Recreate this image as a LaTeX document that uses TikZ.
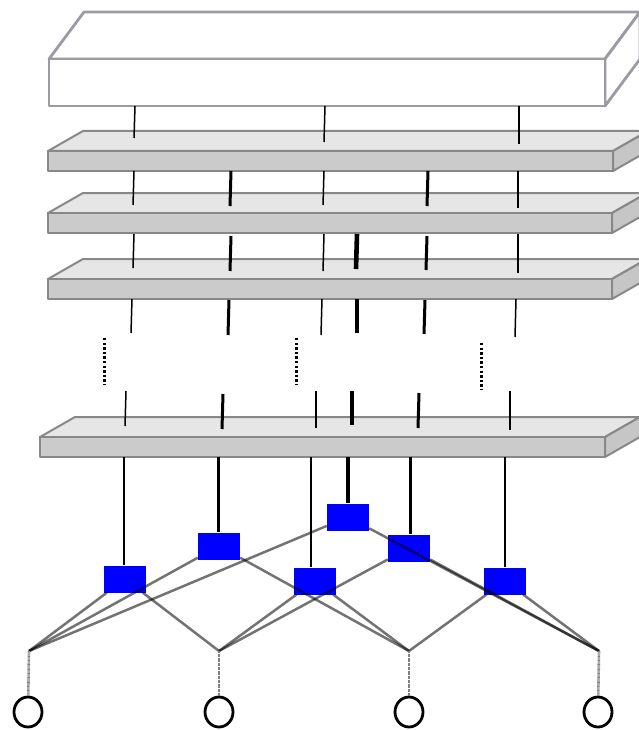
\documentclass[tikz,border=0pt]{standalone}
\usetikzlibrary{shapes.geometric}
\definecolor{slabtop}{HTML}{E6E6E6}
\definecolor{slabfront}{HTML}{CBCBCB}
\definecolor{slabside}{HTML}{C6C6C6}
\definecolor{slabedge}{HTML}{888888}
\definecolor{boxedge}{HTML}{9B9BA3}
\definecolor{unitblue}{HTML}{0000FF}

% A flat block seen from above: #1 front top-left corner, #2 width, #3 height,
% #4/#5 depth offset of the back edge, #6 edge colour, #7 top, #8 side, #9 front fill
\newcommand\drawslab[9]{%
  \begin{scope}[shift={#1}]
    \filldraw[draw=#6, fill=#7, line join=round] (0,0) -- (#4,#5) -- ({#2+#4},#5) -- (#2,0) -- cycle;
    \filldraw[draw=#6, fill=#8, line join=round] (#2,0) -- ({#2+#4},#5) -- ({#2+#4},{#5+#3}) -- (#2,#3) -- cycle;
    \filldraw[draw=#6, fill=#9, line join=round] (0,0) rectangle (#2,#3);
  \end{scope}}

\begin{document}
\begin{tikzpicture}[x=1pt, y=-1pt,
  wthin/.style={draw=black, line width=1.5pt},
  wthick/.style={draw=black, line width=3pt},
  wheavy/.style={draw=black, line width=4.6pt},
  skip/.style={draw=black, line width=3pt, dash pattern=on 2.4pt off 2.2pt},
  unit/.style={rectangle, fill=unitblue, minimum width=42pt, minimum height=27pt, inner sep=0pt},
  link/.style={draw=black, opacity=0.55, line width=2.5pt},
  feed/.style={draw=black!50, line width=2.6pt, dash pattern=on 0.8pt off 0.5pt},
  port/.style={ellipse, draw=black, line width=2.8pt, minimum width=28pt, minimum height=30pt, inner sep=0pt}]
\useasboundingbox (0,0) rectangle (639,730);
\clip (0,0) rectangle (639,730);

% output block and the stacked layers
\begingroup
\tikzset{every path/.style={line width=2.8pt}}
\drawslab{(49,59)}{556}{47}{35}{-47}{boxedge}{white}{white}{white}
\endgroup
\begingroup
\tikzset{every path/.style={line width=2pt}}
\drawslab{(48,151)}{565}{20}{35}{-20}{slabedge}{slabtop}{slabside}{slabfront}
\drawslab{(48,213)}{564}{20}{35}{-20}{slabedge}{slabtop}{slabside}{slabfront}
\drawslab{(48,279)}{564}{20}{35}{-20}{slabedge}{slabtop}{slabside}{slabfront}
\drawslab{(40,437)}{565}{20}{35}{-20}{slabedge}{slabtop}{slabside}{slabfront}
\endgroup

% links from the first layer to the output block
\draw[wthin] (135,106) -- (134,138);
\draw[wthin] (325,106) -- (324,142);
\draw[wthin] (519,106) -- (519,144);

% links between layers
\draw[wthin]  (134,171) -- (133,205);
\draw[wthick] (231,171) -- (230,206);
\draw[wthin]  (324,171) -- (323,205);
\draw[wthick] (428,171) -- (427,206);
\draw[wthin]  (518,171) -- (518,208);

\draw[wthin]  (134,234) -- (133,268);
\draw[wthick] (231,236) -- (230,271);
\draw[wthin]  (324,234) -- (323,271);
\draw[wheavy] (357,234) -- (356,269);
\draw[wthick] (427,236) -- (426,270);
\draw[wthin]  (518,234) -- (518,273);

\draw[wthin]  (132,299) -- (131,333);
\draw[wthick] (229,300) -- (228,335);
\draw[wthin]  (322,299) -- (321,335);
\draw[wheavy] (357,299) -- (357,333);
\draw[wthick] (425,300) -- (424,334);
\draw[wthin]  (516,299) -- (515,337);

% omitted layers
\draw[skip] (104,338) -- (104,385);
\draw[skip] (296,338) -- (296,385);
\draw[skip] (481,343) -- (481,390);

\draw[wthin]  (126,391) -- (125,426);
\draw[wthick] (223,394) -- (222,429);
\draw[wthin]  (316,391) -- (316,428);
\draw[wheavy] (352,391) -- (352,425);
\draw[wthick] (419,393) -- (418,428);
\draw[wthin]  (510,391) -- (510,430);

% pairwise units
\node[unit] (B1) at (125,579) {};
\node[unit] (B2) at (219,546) {};
\node[unit] (B3) at (348,517) {};
\node[unit] (B4) at (409,548) {};
\node[unit] (B5) at (315,581) {};
\node[unit] (B6) at (505,581) {};

% units feed the lowest layer
\coordinate (t1) at (124,457);
\coordinate (t2) at (218,457);
\coordinate (t3) at (348,457);
\coordinate (t4) at (410,457);
\coordinate (t5) at (311,457);
\coordinate (t6) at (505,457);
\draw[wthin]  (t1) -- (t1 |- B1.north);
\draw[wthick] (t2) -- (t2 |- B2.north);
\draw[wheavy] (t3) -- (t3 |- B3.north);
\draw[wthick] (t4) -- (t4 |- B4.north);
\draw[wthin]  (t5) -- (t5 |- B5.north);
\draw[wthin]  (t6) -- (t6 |- B6.north);

% input sites
\coordinate (J1) at (29,651);
\coordinate (J2) at (219,651);
\coordinate (J3) at (409,651);
\coordinate (J4) at (599,651);
\node[port] (C1) at (28,712) {};
\node[port] (C2) at (219,712) {};
\node[port] (C3) at (409,712) {};
\node[port] (C4) at (598,712) {};

% every pair of sites meets in one unit
\draw[link] (B1) -- (J1);
\draw[link] (B1) -- (J2);
\draw[link] (B2) -- (J1);
\draw[link] (B2) -- (J3);
\draw[link] (B3) -- (J1);
\draw[link] (B3) -- (J4);
\draw[link] (B5) -- (J2);
\draw[link] (B5) -- (J3);
\draw[link] (B4) -- (J2);
\draw[link] (B4) -- (J4);
\draw[link] (B6) -- (J3);
\draw[link] (B6) -- (J4);

\draw[feed] (J1) -- (C1);
\draw[feed] (J2) -- (C2);
\draw[feed] (J3) -- (C3);
\draw[feed] (J4) -- (C4);
\end{tikzpicture}
\end{document}
